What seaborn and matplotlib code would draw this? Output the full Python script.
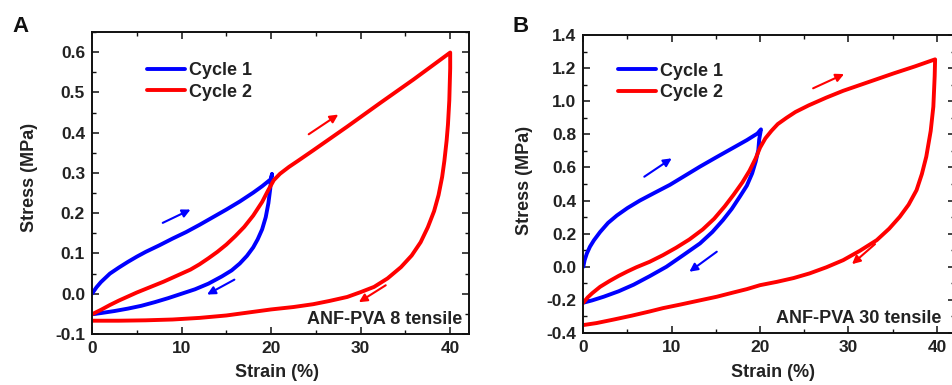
import matplotlib
matplotlib.use("Agg")
import matplotlib.pyplot as plt
from matplotlib.ticker import MultipleLocator, FormatStrFormatter
import seaborn as sns
import pandas as pd

# ---------------- data ----------------
# Panel A : ANF-PVA 8
a_c1_strain = [0, 0.5, 1, 2, 3, 4, 5, 6, 7.5, 9, 10.5, 12, 13.5, 15, 16.5, 18, 19, 20, 20.1,
               20.0, 19.9, 19.7, 19.4, 19.0, 18.5, 18.0, 17.3, 16.5, 15.6, 14.5, 13, 11.5, 10,
               8.5, 7, 5.5, 4, 2.5, 1, 0]
a_c1_stress = [0, 0.016, 0.029, 0.05, 0.065, 0.079, 0.092, 0.104, 0.12, 0.137, 0.153, 0.171, 0.19, 0.209,
               0.229, 0.251, 0.267, 0.285, 0.297,
               0.285, 0.26, 0.225, 0.19, 0.16, 0.135, 0.115, 0.094, 0.075, 0.058, 0.043, 0.025, 0.011, 0.0,
               -0.011, -0.021, -0.03, -0.037, -0.043, -0.048, -0.051]
a_c2_strain = [0, 1, 2, 3, 4, 5, 6, 7, 8, 9, 10, 11, 12, 13, 14, 15, 16, 17, 18, 19, 19.7, 20.3, 21, 22, 23,
               24.7, 28.5, 32.2, 35.9, 40.0,
               40.0, 39.95, 39.9, 39.75, 39.6, 39.35, 39.1, 38.7, 38.2, 37.5, 36.7, 35.7, 34.5, 33, 31.5, 30,
               28.5, 26.5, 24.7, 22.5, 20, 18, 15, 12, 9, 6, 3, 0]
a_c2_stress = [-0.051, -0.04, -0.028, -0.017, -0.007, 0.003, 0.012, 0.021, 0.03, 0.04, 0.05, 0.06, 0.073,
               0.088, 0.104, 0.122, 0.143, 0.166, 0.194, 0.228, 0.258, 0.282, 0.298, 0.315, 0.33,
               0.356, 0.415, 0.474, 0.532, 0.599,
               0.56, 0.52, 0.48, 0.42, 0.38, 0.33, 0.29, 0.245, 0.205, 0.165, 0.128, 0.095, 0.066, 0.038, 0.017,
               0.004, -0.008, -0.018, -0.026, -0.033, -0.039, -0.045, -0.054, -0.06, -0.064, -0.066, -0.067, -0.067]

# Panel B : ANF-PVA 30
b_c1_strain = [0, 0.15, 0.4, 0.75, 1.2, 1.9, 2.8, 3.8, 5, 6.4, 8, 9.8, 11.5, 13.2, 15, 17, 18.5, 19.7, 20.1,
               19.9, 19.8, 19.5, 19.1, 18.5, 17.7, 16.8, 15.8, 14.6, 13.2, 11.3, 9.4, 7.5, 5.7, 4, 2.3, 1, 0]
b_c1_stress = [0, 0.04, 0.08, 0.121, 0.16, 0.21, 0.265, 0.31, 0.355, 0.4, 0.445, 0.495, 0.55, 0.605, 0.66,
               0.72, 0.765, 0.805, 0.83,
               0.77, 0.705, 0.635, 0.564, 0.49, 0.423, 0.35, 0.282, 0.21, 0.141, 0.07, 0.0, -0.057, -0.108,
               -0.148, -0.181, -0.203, -0.217]
b_c2_strain = [0, 0.5, 1, 1.9, 3, 4, 5, 6, 7.5, 9, 10.5, 12, 13.5, 14.8, 16, 17, 18, 18.8, 19.5, 20, 20.6,
               21.3, 22, 23, 24, 25.5, 27.5, 29.4, 31.3, 33.2, 35.1, 37.5, 39.8,
               39.75, 39.6, 39.3, 38.8, 38.3, 37.7, 36.8, 35.8, 34.6, 33.2, 31.3, 29.4, 27.5, 25.6, 23.8, 21.9,
               20, 18.5, 17, 15.1, 13, 11, 9, 7.5, 5.5, 3.5, 1.5, 0]
b_c2_stress = [-0.217, -0.185, -0.16, -0.121, -0.085, -0.055, -0.028, -0.003, 0.03, 0.07, 0.115, 0.165,
               0.225, 0.29, 0.365, 0.435, 0.51, 0.58, 0.655, 0.72, 0.776, 0.822, 0.862, 0.9, 0.935, 0.975,
               1.022, 1.063, 1.098, 1.133, 1.168, 1.21, 1.253,
               1.15, 0.967, 0.82, 0.665, 0.56, 0.463, 0.375, 0.302, 0.23, 0.161, 0.097, 0.04, -0.003, -0.04,
               -0.068, -0.091, -0.111, -0.135, -0.155, -0.181, -0.205, -0.228, -0.25, -0.27, -0.295, -0.318,
               -0.34, -0.352]

# arrows: (x_start, y_start, x_end, y_end, colour)
a_arrows = [(7.9, 0.176, 11.0, 0.209, "blue"), (15.9, 0.035, 12.85, -0.002, "blue"),
            (24.2, 0.396, 27.5, 0.445, "red"), (32.8, 0.021, 29.8, -0.021, "red")]
b_arrows = [(6.9, 0.544, 10.0, 0.655, "blue"), (15.1, 0.091, 12.0, -0.03, "blue"),
            (26.0, 1.078, 29.5, 1.164, "red"), (33.0, 0.137, 30.4, 0.016, "red")]

cycle_labels = ["Cycle 1", "Cycle 2"]
palette = {"Cycle 1": "#0000FF", "Cycle 2": "#FF0000"}

# ---------------- style ----------------
sns.set_theme(style="ticks")
plt.rcParams["font.family"] = ["Liberation Sans", "DejaVu Sans"]
plt.rcParams["font.weight"] = "bold"
plt.rcParams["axes.labelweight"] = "bold"

fig = plt.figure(figsize=(9.52, 3.85), dpi=100)
axA = fig.add_axes([92 / 952, 1 - 334 / 385, 377 / 952, 302 / 385])
axB = fig.add_axes([583.3 / 952, 1 - 333 / 385, 371.7 / 952, 298 / 385])


def make_df(s1, y1, s2, y2):
    return pd.DataFrame({
        "Strain": list(s1) + list(s2),
        "Stress": list(y1) + list(y2),
        "cycle": [cycle_labels[0]] * len(s1) + [cycle_labels[1]] * len(s2),
    })


def draw(ax, df, arrows, xlim, ylim, ymaj, ymin, note, note_xy, leg_xy, ylab_x, ylab_y, xlab_x, xlab_y):
    sns.lineplot(data=df, x="Strain", y="Stress", hue="cycle", palette=palette,
                 sort=False, estimator=None, lw=2.8, ax=ax)
    for line in ax.get_lines():
        line.set_solid_joinstyle("round")
        line.set_solid_capstyle("round")
    for x0, y0, x1, y1, c in arrows:
        ax.annotate("", xy=(x1, y1), xytext=(x0, y0),
                    arrowprops=dict(arrowstyle="-|>", color=c, lw=1.5, mutation_scale=12,
                                    shrinkA=0, shrinkB=0))
    ax.set_xlim(*xlim)
    ax.set_ylim(*ylim)
    ax.xaxis.set_major_locator(MultipleLocator(10))
    ax.xaxis.set_minor_locator(MultipleLocator(5))
    ax.yaxis.set_major_locator(MultipleLocator(ymaj))
    ax.yaxis.set_minor_locator(MultipleLocator(ymin))
    ax.yaxis.set_major_formatter(FormatStrFormatter("%.1f"))
    ax.tick_params(which="both", direction="in", top=True, right=True, color="#111111")
    ax.tick_params(which="major", length=5, width=1.1, labelsize=12.5, pad=5, labelcolor="#222222")
    ax.tick_params(which="minor", length=2.8, width=1.0)
    for lab in ax.get_xticklabels() + ax.get_yticklabels():
        lab.set_fontweight("bold")
    for sp in ax.spines.values():
        sp.set_linewidth(1.4)
        sp.set_color("#111111")
    ax.set_xlabel("Strain (%)", fontsize=13, fontweight="bold", color="#222222")
    ax.set_ylabel("Stress (MPa)", fontsize=13, fontweight="bold", color="#222222")
    ax.yaxis.set_label_coords(ylab_x, ylab_y)
    ax.xaxis.set_label_coords(xlab_x, xlab_y)
    ax.text(note_xy[0], note_xy[1], note, transform=ax.transAxes, ha="right", va="baseline",
            fontsize=13, fontweight="bold", color="#222222")
    leg = ax.legend(loc="upper left", bbox_to_anchor=leg_xy, frameon=False,
                    handlelength=2.1, handletextpad=0.25, labelspacing=0.25, borderpad=0,
                    borderaxespad=0, prop={"weight": "bold", "size": 13})
    for line in leg.get_lines():
        line.set_linewidth(2.8)
    for t in leg.get_texts():
        t.set_color("#222222")


dfA = make_df(a_c1_strain, a_c1_stress, a_c2_strain, a_c2_stress)
dfB = make_df(b_c1_strain, b_c1_stress, b_c2_strain, b_c2_stress)

draw(axA, dfA, a_arrows, (0, 42.1), (-0.1, 0.65), 0.1, 0.05, "ANF-PVA 8 tensile",
     (0.983, 0.033), (0.146, 0.9), -0.143, 0.52, 0.49, -0.10)
draw(axB, dfB, b_arrows, (0, 42.05), (-0.4, 1.4), 0.2, 0.1, "ANF-PVA 30 tensile",
     (0.962, 0.034), (0.093, 0.907), -0.135, 0.513, 0.51, -0.105)

fig.text(12 / 952, 1 - 32 / 385, "A", fontsize=16, fontweight="bold", ha="left", va="baseline", color="#111111")
fig.text(513 / 952, 1 - 32 / 385, "B", fontsize=16, fontweight="bold", ha="left", va="baseline", color="#111111")

fig.savefig("out.png", dpi=100)
